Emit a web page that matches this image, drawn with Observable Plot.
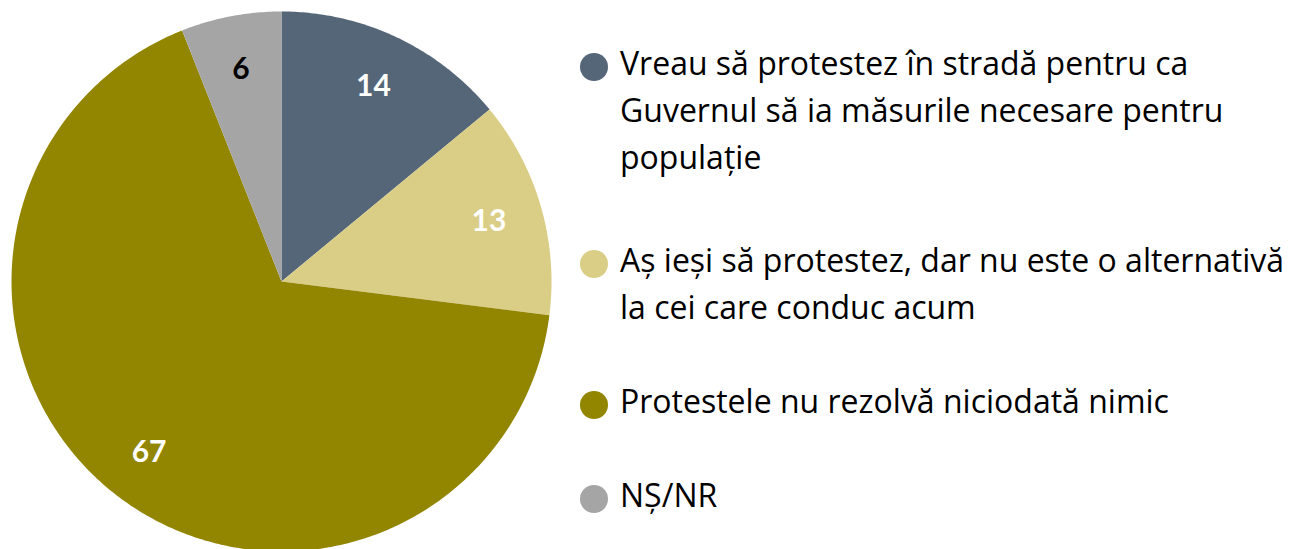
<!DOCTYPE html>
<html>
<head>
<meta charset="utf-8">
<script src="https://cdn.jsdelivr.net/npm/d3@7"></script>
<script src="https://cdn.jsdelivr.net/npm/@observablehq/plot@0.6"></script>
<style>
  html, body { margin: 0; padding: 0; background: #fff; }
  #wrap { position: relative; width: 1297px; height: 549px; overflow: hidden; font-family: "Open Sans", Lato, sans-serif; }
  #legend { position: absolute; left: 580px; top: 39px; display: flex; flex-direction: column; gap: 47px; }
  .item { display: flex; align-items: flex-start; }
  .item:first-child { margin-bottom: 9px; }
  .sw { width: 28px; height: 28px; border-radius: 50%; margin-top: 14px; margin-right: 12px; flex: none; }
  .txt { font-size: 32px; line-height: 47px; color: #000; white-space: pre-line; }
</style>
</head>
<body>
<div id="wrap"><div id="chart"></div><div id="legend"></div></div>
<script>
const categories = [
  "Vreau să protestez în stradă pentru ca\nGuvernul să ia măsurile necesare pentru\npopulație",
  "Aș ieși să protestez, dar nu este o alternativă\nla cei care conduc acum",
  "Protestele nu rezolvă niciodată nimic",
  "NȘ/NR"
];
const values = [14, 13, 67, 6];
const colors = ["#546678", "#DACE86", "#928500", "#A5A5A5"];
const labelColors = ["white", "white", "white", "black"];

const rows = categories.map((c, i) => ({cat: c, value: values[i], color: colors[i], labelColor: labelColors[i]}));
const arcs = d3.pie().sort(null).value(d => d.value)(rows);

// polygon outline for each slice (angle measured clockwise from top)
const pts = [];
for (const a of arcs) {
  pts.push({cat: a.data.cat, x: 0, y: 0});
  const n = Math.max(2, Math.ceil((a.endAngle - a.startAngle) / 0.01));
  for (let k = 0; k <= n; k++) {
    const t = a.startAngle + (a.endAngle - a.startAngle) * k / n;
    pts.push({cat: a.data.cat, x: Math.sin(t), y: Math.cos(t)});
  }
}
const labels = arcs.map(a => {
  const m = (a.startAngle + a.endAngle) / 2;
  return {x: 0.8 * Math.sin(m), y: 0.8 * Math.cos(m), text: String(a.data.value), fill: a.data.labelColor};
});

const chart = Plot.plot({
  width: 1297,
  height: 549,
  margin: 0,
  x: {domain: [-1, 1], range: [11, 551], axis: null},
  y: {domain: [-1, 1], range: [551, 11], axis: null},
  color: {domain: categories, range: colors},
  style: {fontFamily: "Lato, sans-serif", background: "white"},
  marks: [
    Plot.line(pts, {x: "x", y: "y", z: "cat", fill: "cat", stroke: null, curve: "linear-closed"}),
    Plot.text(labels.filter(d => d.fill === "white"), {x: "x", y: "y", text: "text", fill: "white", fontSize: 30, fontWeight: "bold"}),
    Plot.text(labels.filter(d => d.fill === "black"), {x: "x", y: "y", text: "text", fill: "black", fontSize: 30, fontWeight: "bold"})
  ]
});
document.getElementById("chart").appendChild(chart);

const legend = document.getElementById("legend");
rows.forEach(r => {
  const it = document.createElement("div");
  it.className = "item";
  const sw = document.createElement("div");
  sw.className = "sw";
  sw.style.background = r.color;
  const tx = document.createElement("div");
  tx.className = "txt";
  tx.textContent = r.cat;
  it.appendChild(sw);
  it.appendChild(tx);
  legend.appendChild(it);
});
</script>
</body>
</html>
